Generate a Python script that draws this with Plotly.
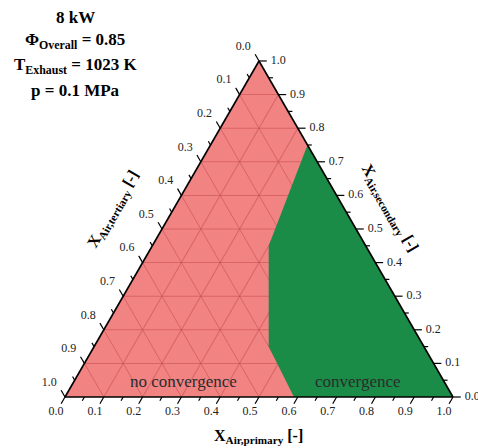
import math
import plotly.graph_objects as go

# ---------------- data ----------------
tick_values = [0.0, 0.1, 0.2, 0.3, 0.4, 0.5, 0.6, 0.7, 0.8, 0.9, 1.0]
tick_labels = ["0.0", "0.1", "0.2", "0.3", "0.4", "0.5", "0.6", "0.7", "0.8", "0.9", "1.0"]
minor_values = [0.05, 0.15, 0.25, 0.35, 0.45, 0.55, 0.65, 0.75, 0.85, 0.95]

# convergence region boundary (a = secondary air, b = tertiary air, c = primary air)
conv_secondary = [0.75, 0.45, 0.15, 0.00, 0.00, 0.75]
conv_tertiary = [0.00, 0.25, 0.40, 0.41, 0.00, 0.00]
conv_primary = [0.25, 0.30, 0.45, 0.59, 1.00, 0.25]

info_lines = ["<b>8 kW</b>",
              "<b>Φ<sub>Overall</sub> = 0.85</b>",
              "<b>T<sub>Exhaust</sub> = 1023 K</b>",
              "<b>p = 0.1 MPa</b>"]

PINK = "rgb(241,131,131)"
GRID = "rgba(196,74,74,0.55)"
GREEN = "rgb(27,139,72)"
FONT = "Liberation Serif"
W, H = 478, 448
X0, SIDE, BASE = 65, 388, 51          # triangle placement (px): left x, side length, base from bottom
S3 = math.sqrt(3) / 2

fig = go.Figure()

# convergence polygon (ternary subplot)
fig.add_trace(go.Scatterternary(
    a=conv_secondary, b=conv_tertiary, c=conv_primary,
    mode="lines", fill="toself", fillcolor=GREEN,
    line=dict(width=0, color=GREEN), hoverinfo="skip"))


# helper: ternary (a, b, c) -> cartesian overlay coordinates (same scale as ternary)
def proj(a, b, c):
    return c + a / 2, a * S3


MAJ, MIN = 0.020, 0.011


def tick_xy(vals, t, edge):
    xs, ys = [], []
    for v in vals:
        if edge == "right":
            p0, p1 = (v, 0, 1 - v), (v, -t, 1 - v + t)
        elif edge == "bottom":
            p0, p1 = (0, 1 - v, v), (-t, 1 - v + t, v)
        else:
            p0, p1 = (1 - v, v, 0), (1 - v + t, v, -t)
        x0, y0 = proj(*p0)
        x1, y1 = proj(*p1)
        xs += [x0, x1, None]
        ys += [y0, y1, None]
    return xs, ys


for edge in ["right", "bottom", "left"]:
    for vals, t in [(tick_values, MAJ), (minor_values, MIN)]:
        xs, ys = tick_xy(vals, t, edge)
        fig.add_trace(go.Scatter(x=xs, y=ys, mode="lines", hoverinfo="skip",
                                 line=dict(color="black", width=1.2),
                                 cliponaxis=False, xaxis="x", yaxis="y"))

tf = dict(family=FONT, size=12, color="#222")
label_specs = [
    ("right", 0.030, "middle right"),
    ("bottom", 0.046, "middle center"),
    ("left", 0.042, "middle left"),
]
for edge, L, pos in label_specs:
    xs, ys = [], []
    for v in tick_values:
        if edge == "right":
            p = (v, -L, 1 - v + L)
        elif edge == "bottom":
            p = (-L, 1 - v + L, v)
        else:
            p = (1 - v + L, v, -L)
        x, y = proj(*p)
        xs.append(x); ys.append(y)
    fig.add_trace(go.Scatter(x=xs, y=ys, mode="text", text=tick_labels,
                             textposition=pos, textfont=tf, cliponaxis=False,
                             hoverinfo="skip", xaxis="x", yaxis="y"))

axis_common = dict(showgrid=True, gridcolor=GRID, gridwidth=1, dtick=0.1, tick0=0,
                   ticks="", showticklabels=False, showline=True, linecolor="black",
                   linewidth=1.6, title=dict(text=""), min=0)

fig.update_layout(
    width=W, height=H, margin=dict(l=0, r=0, t=0, b=0),
    paper_bgcolor="white", plot_bgcolor="rgba(0,0,0,0)", showlegend=False,
    ternary=dict(domain=dict(x=[X0 / W, (X0 + SIDE) / W],
                             y=[BASE / H, (BASE + SIDE * S3) / H]),
                 bgcolor=PINK, sum=1,
                 aaxis=axis_common, baxis=axis_common, caxis=axis_common),
    xaxis=dict(domain=[0, 1], range=[-X0 / SIDE, (W - X0) / SIDE], visible=False,
               fixedrange=True),
    yaxis=dict(domain=[0, 1], range=[-BASE / SIDE, (H - BASE) / SIDE], visible=False,
               fixedrange=True),
)

ann = []
for txt, y in zip(info_lines, [17, 41, 66, 90]):
    ann.append(dict(text=txt, x=75 / W, y=1 - y / H, xref="paper", yref="paper",
                    showarrow=False, xanchor="center", yanchor="middle",
                    font=dict(family=FONT, size=17, color="black")))
ann.append(dict(text="<b>X<sub>Air,primary</sub> [-]</b>", x=258 / W, y=1 - 436 / H,
                xref="paper", yref="paper", showarrow=False, xanchor="center",
                yanchor="middle", font=dict(family=FONT, size=16, color="black")))
ann.append(dict(text="<b>X<sub>Air,tertiary</sub> [-]</b>", x=113 / W, y=1 - 209 / H,
                xref="paper", yref="paper", showarrow=False, textangle=-60,
                xanchor="center", yanchor="middle",
                font=dict(family=FONT, size=16, color="black")))
ann.append(dict(text="<b>X<sub>Air,secondary</sub> [-]</b>", x=390 / W, y=1 - 208 / H,
                xref="paper", yref="paper", showarrow=False, textangle=60,
                xanchor="center", yanchor="middle",
                font=dict(family=FONT, size=16, color="black")))
ann.append(dict(text="no convergence", x=183 / W, y=1 - 381 / H, xref="paper",
                yref="paper", showarrow=False, xanchor="center", yanchor="middle",
                font=dict(family=FONT, size=17, color="#2b2b2b")))
ann.append(dict(text="convergence", x=358 / W, y=1 - 381 / H, xref="paper",
                yref="paper", showarrow=False, xanchor="center", yanchor="middle",
                font=dict(family=FONT, size=17, color="#2b2b2b")))
fig.update_layout(annotations=ann)

fig.write_html("out.html")
